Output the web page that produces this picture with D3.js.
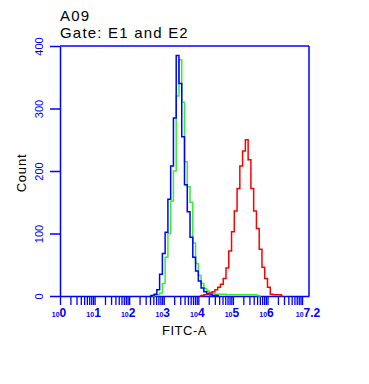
<!DOCTYPE html>
<html>
<head>
<meta charset="utf-8">
<script src="https://cdn.jsdelivr.net/npm/d3@7"></script>
<style>
  body { margin: 0; background: #fff; }
  text { font-family: "Liberation Sans", Arial, sans-serif; }
</style>
</head>
<body>
<div id="chart"></div>
<script>
// histogram bins, as log10 of the FITC-A channel
var bins = [2.60, 2.68, 2.76, 2.84, 2.92, 3.00, 3.08, 3.16, 3.24, 3.32,
    3.40, 3.48, 3.56, 3.64, 3.72, 3.80, 3.88, 3.96, 4.04, 4.12,
    4.20, 4.28, 4.36, 4.44, 4.52, 4.60, 4.68, 4.76, 4.84, 4.92,
    5.00, 5.08, 5.16, 5.24, 5.32, 5.40, 5.48, 5.56, 5.64, 5.72,
    5.80, 5.88, 5.96, 6.04, 6.12, 6.20, 6.28, 6.36, 6.44];

// counts per bin for each sample
var greenCounts = [0, 0, 1, 2, 5, 20, 62, 100, 152, 200,
    320, 378, 310, 215, 175, 150, 85, 52, 33, 20,
    12, 8, 5, 4, 3, 3, 3, 3, 2, 2,
    2, 2, 2, 2, 2, 2, 2, 2, 2, 1,
    0, 0, 0, 0, 0, 0, 0, 0, 0];
var blueCounts = [0, 1, 3, 10, 35, 68, 102, 155, 208, 285,
    385, 340, 255, 178, 135, 94, 62, 40, 24, 13,
    7, 4, 2, 1, 1, 0, 0, 0, 0, 0,
    0, 0, 0, 0, 0, 0, 0, 0, 0, 0,
    0, 0, 0, 0, 0, 0, 0, 0, 0];
var redCounts = [0, 0, 0, 0, 0, 0, 0, 0, 0, 0,
    0, 0, 0, 0, 0, 0, 0, 0, 0, 1,
    2, 3, 5, 7, 10, 14, 19, 28, 45, 72,
    103, 136, 172, 208, 232, 250, 218, 172, 136, 108,
    75, 46, 28, 14, 3, 2, 2, 2, 0];

var yTicks = [0, 100, 200, 300, 400];
var xDecades = [0, 1, 2, 3, 4, 5, 6, 7.2];

function main() {

    var margin = { top: 46, right: 60, bottom: 88, left: 60 },
        width = 369 - margin.left - margin.right,
        height = 384 - margin.top - margin.bottom;

    var blue = "#0000ff";

    var root = d3.select("#chart")
        .append("svg")
        .attr("width", 369)
        .attr("height", 384);

    var svg = root.append("g")
        .attr("transform", "translate(" + margin.left + "," + margin.top + ")");

    // titles
    root.append("text").attr("x", 60).attr("y", 21)
        .style("font-size", "15px").style("letter-spacing", "1.2px").text("A09");
    root.append("text").attr("x", 60).attr("y", 38)
        .style("font-size", "15px").style("letter-spacing", "1.2px").text("Gate: E1 and E2");

    // scales
    var x = d3.scaleLog()
        .domain([1, Math.pow(10, 7.2)])
        .range([0, width]);
    var y = d3.scaleLinear()
        .domain([0, 400])
        .range([height, 0]);

    // minor ticks on the log axis
    var minor = [];
    for (var d = 0; d < 8; d++) {
        for (var k = 1; k < 10; k++) {
            var v = k * Math.pow(10, d);
            if (v <= Math.pow(10, 7.2)) minor.push(v);
        }
    }

    var xAxis = svg.append("g")
        .attr("transform", "translate(0," + height + ")")
        .call(d3.axisBottom(x).tickValues(minor).tickSize(9).tickSizeOuter(0).tickFormat(""));
    xAxis.selectAll("line").attr("stroke", blue).attr("stroke-width", 1.3);
    xAxis.select(".domain").attr("stroke", blue).attr("stroke-width", 1.5);

    // decade labels: small "10" with a big exponent
    var lab = svg.append("g")
        .selectAll("text")
        .data(xDecades)
        .enter()
        .append("text")
        .attr("x", function (d) { return x(Math.pow(10, d)) - 1; })
        .attr("y", height + 21)
        .attr("text-anchor", "middle")
        .attr("fill", blue)
        .style("font-weight", "bold");
    lab.append("tspan").style("font-size", "7px").text("10");
    lab.append("tspan").style("font-size", "12px").text(function (d) { return d; });

    var yAxis = svg.append("g")
        .call(d3.axisLeft(y).tickValues(yTicks).tickSize(10).tickSizeOuter(0));
    yAxis.selectAll("line").attr("stroke", blue).attr("stroke-width", 1.5);
    yAxis.select(".domain").attr("stroke", blue).attr("stroke-width", 1.5);
    yAxis.selectAll("text")
        .attr("transform", "rotate(-90)")
        .attr("x", 0)
        .attr("y", -17)
        .attr("dy", null)
        .attr("text-anchor", "middle")
        .attr("fill", blue)
        .style("font-size", "11px")
        .style("font-family", "Liberation Sans, Arial, sans-serif");

    // frame on top and right
    svg.append("line").attr("x1", 0).attr("x2", width).attr("y1", 0).attr("y2", 0)
        .attr("stroke", blue).attr("stroke-width", 1.5);
    svg.append("line").attr("x1", width).attr("x2", width).attr("y1", 0).attr("y2", height)
        .attr("stroke", blue).attr("stroke-width", 1.5);

    // axis titles
    svg.append("text")
        .attr("x", width / 2)
        .attr("y", height + 39)
        .attr("text-anchor", "middle")
        .style("font-size", "13px")
        .style("letter-spacing", "0.5px")
        .text("FITC-A");
    svg.append("text")
        .attr("transform", "rotate(-90)")
        .attr("x", -(height / 2) - 2)
        .attr("y", -34)
        .attr("text-anchor", "middle")
        .style("font-size", "13px")
        .style("letter-spacing", "0.8px")
        .text("Count");

    // histograms
    var series = [
        { counts: greenCounts, color: "#33ee33" },
        { counts: blueCounts, color: blue },
        { counts: redCounts, color: "#ff0000" }
    ];

    var line = d3.line()
        .curve(d3.curveStep)
        .x(function (d) { return x(Math.pow(10, d.b)); })
        .y(function (d) { return y(d.c); });

    series.forEach(function (s) {
        var pts = bins.map(function (b, i) { return { b: b, c: s.counts[i] }; });
        var first = d3.max([0, pts.findIndex(function (p) { return p.c > 0; }) - 1]);
        var last = d3.min([pts.length - 1, d3.maxIndex(pts, function (p, i) { return p.c > 0 ? i : -1; }) + 1]);
        svg.append("path")
            .datum(pts.slice(first, last + 1))
            .attr("fill", "none")
            .attr("stroke", s.color)
            .attr("stroke-width", 1.5)
            .attr("d", line);
    });
}
window.addEventListener('load', main);
</script>
</body>
</html>
